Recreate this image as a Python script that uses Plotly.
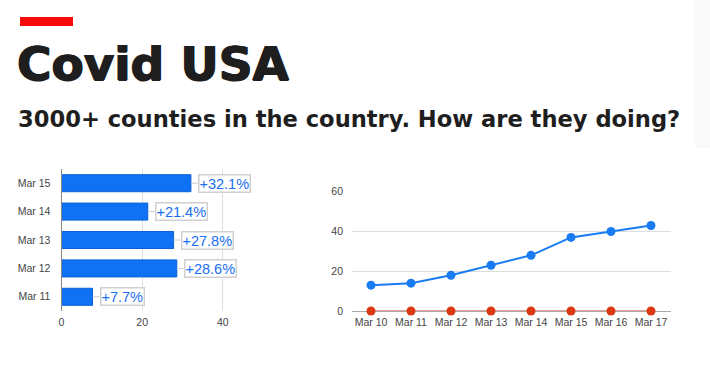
import plotly.graph_objects as go

# Bar chart data
bar_dates = ["Mar 11", "Mar 12", "Mar 13", "Mar 14", "Mar 15"]
bar_values = [7.7, 28.6, 27.8, 21.4, 32.1]
bar_labels = ["+7.7%", "+28.6%", "+27.8%", "+21.4%", "+32.1%"]
bar_ticks = [0, 20, 40]

# Line chart data
line_dates = ["Mar 10", "Mar 11", "Mar 12", "Mar 13", "Mar 14", "Mar 15", "Mar 16", "Mar 17"]
blue_values = [13, 14, 18, 23, 28, 37, 40, 43]
red_values = [0, 0, 0, 0, 0, 0, 0, 0]
line_ticks = [0, 20, 40, 60]

W, H = 710, 374
def px(x):
    return x / W
def py(y):
    return 1 - y / H

TICKFONT = dict(family="Liberation Sans, Arial, sans-serif", size=10.5, color="#444444")

fig = go.Figure()

fig.add_trace(go.Bar(
    y=bar_dates, x=bar_values, orientation="h",
    marker=dict(color="#0f72f5", line=dict(color="#0a5fd6", width=1)),
    xaxis="x", yaxis="y", width=0.6, showlegend=False,
))

fig.add_trace(go.Scatter(
    x=line_dates, y=red_values, mode="lines+markers",
    line=dict(color="#f0a090", width=2),
    marker=dict(color="#dc3912", size=9),
    xaxis="x2", yaxis="y2", cliponaxis=False, showlegend=False,
))
fig.add_trace(go.Scatter(
    x=line_dates, y=blue_values, mode="lines+markers",
    line=dict(color="#1a7cf5", width=2),
    marker=dict(color="#1a7cf5", size=9),
    xaxis="x2", yaxis="y2", cliponaxis=False, showlegend=False,
))

annotations = []
for d, v, lab in zip(bar_dates, bar_values, bar_labels):
    annotations.append(dict(
        x=v, y=d, xref="x", yref="y", text=lab,
        showarrow=True, arrowhead=0, arrowcolor="#cccccc", arrowwidth=1,
        ax=7, ay=0, xanchor="left", yanchor="middle",
        bgcolor="white", bordercolor="#d0d0d0", borderwidth=1.5, borderpad=0,
        font=dict(family="Liberation Sans, Arial, sans-serif", size=14.5, color="#1a6ff0"),
    ))

TITLE_SHADOW = "0.8px 0 0 #1e1e1e, -0.8px 0 0 #1e1e1e, 0 0.6px 0 #1e1e1e"
annotations.append(dict(
    x=px(15), y=py(63), xref="paper", yref="paper", xanchor="left", yanchor="middle",
    text="Covid USA", showarrow=False,
    font=dict(family="DejaVu Sans", size=47, color="#1e1e1e", weight=700, shadow=TITLE_SHADOW),
))
annotations.append(dict(
    x=px(16), y=py(119), xref="paper", yref="paper", xanchor="left", yanchor="middle",
    text="3000+ counties in the country. How are they doing?", showarrow=False,
    font=dict(family="DejaVu Sans", size=22.6, color="#1e1e1e", weight=700),
))

shapes = [
    dict(type="rect", xref="paper", yref="paper", x0=px(20), x1=px(73), y0=py(26), y1=py(17),
         fillcolor="#f90a0a", line=dict(width=0), layer="above"),
    dict(type="rect", xref="paper", yref="paper", x0=px(695), x1=px(710), y0=py(148), y1=py(0),
         fillcolor="#f9f9f9", line=dict(width=0), layer="below"),
]

fig.update_layout(
    width=W, height=H, margin=dict(l=0, r=0, t=0, b=0, autoexpand=False),
    paper_bgcolor="white", plot_bgcolor="white",
    shapes=shapes, annotations=annotations,
    bargap=0.4,
    xaxis=dict(domain=[px(61.5), px(255)], range=[0, 48], tickvals=bar_ticks,
               showgrid=True, gridcolor="#dddddd", zeroline=False, showline=False,
               tickfont=TICKFONT, ticks="", ticklabelstandoff=3),
    yaxis=dict(domain=[py(311), py(169)], categoryorder="array", categoryarray=bar_dates,
               range=[-0.5, 4.5], showgrid=False, zeroline=False,
               showline=True, linecolor="#888888", linewidth=1,
               tickfont=TICKFONT, ticks="", ticklabelstandoff=8, anchor="x"),
    xaxis2=dict(domain=[px(352), px(671)], range=[-0.475, 7.5], anchor="y2",
                showgrid=False, zeroline=False, showline=False, tickfont=TICKFONT, ticks="",
                ticklabelstandoff=3),
    yaxis2=dict(domain=[py(311), py(191.7)], range=[0, 60], tickvals=line_ticks, anchor="x2",
                showgrid=True, gridcolor="#dddddd", zeroline=True, zerolinecolor="#aaaaaa",
                zerolinewidth=1, showline=False, tickfont=TICKFONT, ticks="", ticklabelstandoff=8),
)

fig.write_html("out.html", config={"displayModeBar": False},
               post_script="document.body.style.margin='0';document.body.style.overflow='hidden';")
